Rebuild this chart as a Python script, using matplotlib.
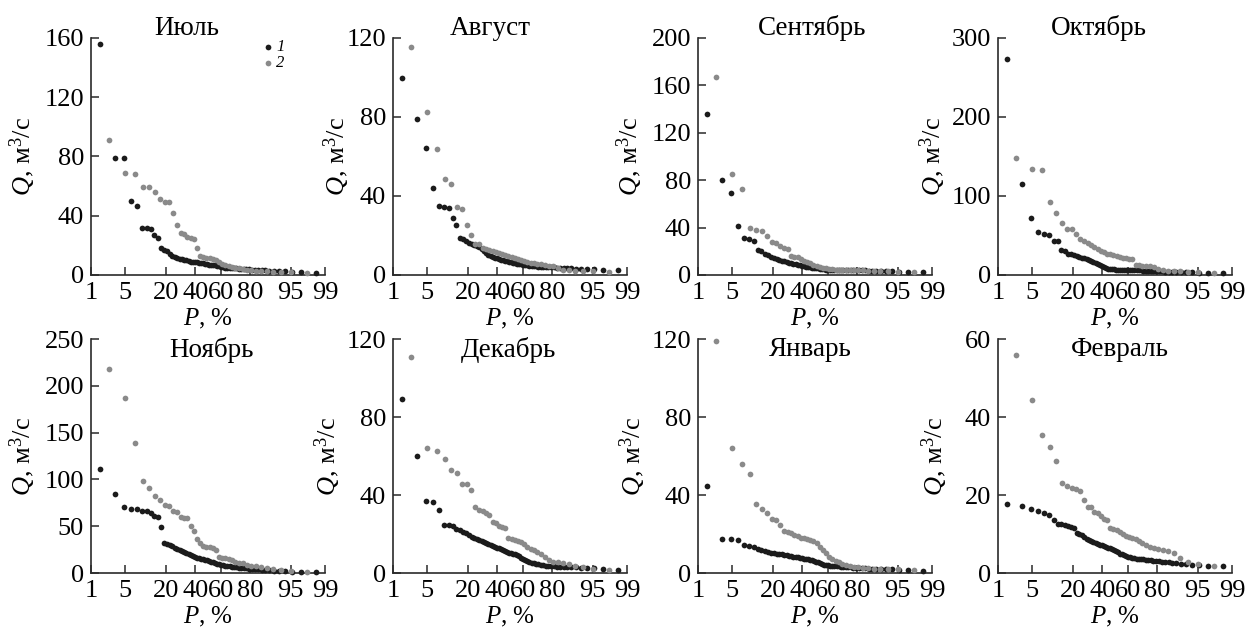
import numpy as np
import matplotlib
matplotlib.use("Agg")
import matplotlib.pyplot as plt
from statistics import NormalDist

plt.rcParams["font.family"] = "serif"
plt.rcParams["font.serif"] = ["Liberation Serif", "DejaVu Serif"]
plt.rcParams["mathtext.fontset"] = "custom"
plt.rcParams["mathtext.rm"] = "Liberation Serif"
plt.rcParams["mathtext.it"] = "Liberation Serif:italic"
plt.rcParams["mathtext.default"] = "regular"

FONT = "Liberation Serif"

months = ["Июль", "Август", "Сентябрь", "Октябрь",
          "Ноябрь", "Декабрь", "Январь", "Февраль"]

# monthly discharges, m3/s, ranked from largest to smallest
# series 1 (black)
jul_1 = [156, 79, 79, 50, 46.5, 32, 31.5, 31, 27, 25, 18, 17, 16, 14, 13, 12, 11.5, 11, 10.5, 10,
         10, 9.5, 9, 9, 8.5, 8.5, 8, 8, 8, 7.5, 7.5, 7, 7, 6.5, 6.5, 6, 6, 5.5, 5.5, 5,
         5, 5, 4.5, 4.5, 4.5, 4, 4, 4, 4, 3.8, 3.6, 3.5, 3.4, 3.3, 3.2, 3, 2.8, 2.6, 2.4, 2.2,
         2, 1.5]
aug_1 = [99.5, 79, 64.5, 44, 35, 34.3, 34, 29, 25.5, 18.5, 18, 17, 16, 15.5, 15, 14.5, 14, 13, 12, 11,
         10, 9.5, 9, 8.8, 8.5, 8, 7.8, 7.5, 7.2, 7, 6.8, 6.5, 6.3, 6, 5.8, 5.6, 5.4, 5.2, 5, 4.9,
         4.8, 4.6, 4.5, 4.4, 4.3, 4.2, 4.1, 4, 4, 3.9, 3.8, 3.7, 3.6, 3.5, 3.4, 3.3, 3.2, 3.1, 3, 2.9,
         2.7, 2.5]
sep_1 = [136, 80, 69, 41.5, 31, 30.7, 29, 21, 20.3, 18, 16.5, 15, 14, 13.5, 13, 12, 11.5, 11, 10.5, 10,
         9.5, 9, 8.7, 8.3, 8, 7.5, 7, 6.8, 6.5, 6.2, 6, 5.7, 5.5, 5.2, 5, 4.8, 4.6, 4.5, 4.5, 4.4,
         4.4, 4.3, 4.3, 4.2, 4.2, 4.1, 4.1, 4, 4, 4, 3.9, 3.9, 3.8, 3.7, 3.6, 3.5, 3.3, 3.2, 3, 2.8,
         2.5, 2.2]
oct_1 = [274, 115, 72, 55, 52, 50, 43.5, 42.5, 31.5, 30.5, 27, 26, 25, 24, 23, 22, 21, 20, 19, 18,
         16.5, 15.5, 14.5, 13, 11.5, 10, 8.5, 7.5, 7.2, 7, 7, 6.8, 6.8, 6.6, 6.5, 6.4, 6.3, 6.2, 6.2, 6,
         6, 6, 5.8, 5.8, 5.6, 5.5, 5.5, 5.4, 5.2, 5, 4.8, 4.6, 4.4, 4.2, 4, 3.8, 3.6, 3.4, 3.2, 3,
         2.8, 2.5]
nov_1 = [111, 84, 71, 68.5, 68.5, 66.5, 66, 64, 61, 59.5, 49, 32, 31.5, 30, 28.5, 27, 25.5, 24.5, 23.5, 22.5,
         21, 20, 19, 18, 17, 16.5, 16, 15, 14.5, 14, 13.5, 13, 12, 11.5, 11, 10, 9.5, 9, 8.5, 8,
         7.5, 7, 6.8, 6.5, 6, 5.8, 5.5, 5.2, 5, 4.8, 4.5, 4.2, 4, 3.6, 3.2, 3, 2.6, 2.2, 1.8, 1.5,
         1.2, 1]
dec_1 = [89, 60, 37, 36.5, 32.5, 24.5, 24.5, 24, 22.5, 22, 21, 20.5, 19.5, 18.5, 18, 17.5, 17, 16.5, 16, 15.5,
         15, 14.5, 14, 13.5, 13, 12.8, 12.5, 12, 11.5, 11, 10.5, 10.2, 10, 9.5, 9, 8.5, 7.5, 7, 6.5, 6,
         5.5, 5.2, 5, 4.8, 4.5, 4.3, 4, 3.8, 3.6, 3.5, 3.4, 3.3, 3.2, 3.1, 3, 3, 2.9, 2.8, 2.6, 2.4,
         2, 1.5]
jan_1 = [44.5, 17.3, 17.3, 16.8, 14.2, 13.7, 13.3, 12.5, 12, 11.5, 11, 10.5, 10.2, 10, 9.7, 9.5, 9.2, 9, 8.8, 8.6,
         8.4, 8.2, 8, 7.8, 7.6, 7.4, 7.2, 7, 6.8, 6.5, 6.2, 5.8, 5.4, 5, 4.6, 4.3, 4, 3.9, 3.8, 3.7,
         3.6, 3.5, 3.4, 3.3, 3.2, 3.1, 3, 2.9, 2.8, 2.7, 2.6, 2.5, 2.4, 2.3, 2.2, 2.1, 2, 1.9, 1.8, 1.6,
         1.4, 1.2]
feb_1 = [17.6, 17.2, 16.3, 16, 15.5, 14.8, 13.5, 12.6, 12.5, 12.3, 12, 11.8, 11.5, 10.3, 10, 9.7, 9.2, 8.8, 8.5, 8.2,
         8, 7.7, 7.5, 7.3, 7.1, 6.9, 6.7, 6.5, 6.3, 6.1, 5.9, 5.6, 5.3, 5, 4.8, 4.5, 4.3, 4.1, 4, 3.9,
         3.8, 3.7, 3.7, 3.6, 3.5, 3.4, 3.4, 3.3, 3.2, 3.1, 3, 2.9, 2.8, 2.7, 2.6, 2.5, 2.3, 2.2, 2.1, 2,
         1.9, 1.7]

# series 2 (grey)
jul_2 = [91, 69, 68.5, 59.5, 59.5, 56, 51.5, 49.5, 49, 42, 33.5, 28.5, 28, 25.5, 25, 24, 18, 12.5, 12, 11.8,
         11.5, 10.7, 9.8, 8.5, 7.5, 6.8, 6, 5.5, 5, 4.5, 4, 3.6, 3.3, 3, 2.8, 2.5, 2.3, 2, 1.8, 1.5]
aug_2 = [115.5, 82.7, 63.8, 48.8, 46, 34.5, 33.5, 25.5, 20.2, 15.8, 15.5, 13.5, 13, 12.5, 12, 11.5, 11, 10.5, 10, 9.5,
         9, 8.5, 8, 7.5, 7, 6.5, 6.2, 6, 5.8, 5.5, 5, 4.8, 4.5, 3.5, 2.5, 2.3, 2, 2, 2, 1.5]
sep_2 = [167.5, 85, 72.5, 39.5, 38, 37, 33, 27.6, 26.7, 24.7, 23, 22, 16.3, 15.6, 15, 13.5, 12, 11, 10, 8.5,
         7.5, 6.5, 6, 5.5, 5, 4.8, 4.6, 4.5, 4.4, 4.3, 4.2, 4.1, 4, 3.8, 3.6, 3.4, 3.2, 3, 2.8, 2.5]
oct_2 = [148.5, 134.5, 133.5, 92, 78, 66, 58.5, 58, 51.5, 46, 43, 40.5, 38, 36, 33.5, 30.5, 29, 27, 26, 25,
         24, 23, 22, 21, 20.5, 20, 13, 12.5, 12, 11.5, 11, 10, 8, 6, 5.5, 5, 4.5, 4, 3.5, 3]
nov_2 = [218, 186.5, 139, 98, 90.5, 82, 78, 73, 71.5, 66, 65, 59.5, 58.5, 58.5, 50, 45, 36, 32.5, 28.5, 28,
         27.5, 27, 25, 17, 16.5, 16, 15, 13.5, 12, 11, 10.5, 8.5, 7.8, 7.3, 6.5, 5, 4, 3, 2, 1]
dec_2 = [110.7, 64, 62.5, 58.3, 53, 51.5, 45.8, 45.6, 42.8, 34, 32.3, 32, 31, 30, 26.4, 25.4, 24.2, 23.5, 23, 17.7,
         17.4, 17.1, 16.6, 16, 14.9, 13.5, 12.5, 11.8, 10.6, 9.5, 8, 6.5, 5.8, 5.5, 5, 4.4, 3.5, 3, 2.2, 1.4]
jan_2 = [119, 64, 56, 51, 35.3, 33, 30.6, 27.7, 27, 24.6, 21.6, 20.8, 20.3, 19.5, 18.9, 18.2, 17.7, 17.4, 17.1, 16.6,
         15.5, 13.5, 12, 10.4, 8.1, 7, 6, 5.4, 4.8, 4.2, 3.7, 3.3, 2.9, 2.7, 2.5, 2.3, 2.2, 2, 1.8, 1.5]
feb_2 = [56, 44.3, 35.3, 32.4, 28.6, 23, 22.4, 21.9, 21.5, 21, 18.7, 17, 16.8, 15.7, 15.3, 14.6, 13.9, 13.5, 11.5, 11.2,
         11, 10.5, 10, 9.6, 9.2, 9, 8.8, 8.2, 7.8, 7.3, 6.7, 6.4, 6.2, 6, 5.6, 5.2, 3.9, 2.8, 2.3, 1.9]

series_1 = [jul_1, aug_1, sep_1, oct_1, nov_1, dec_1, jan_1, feb_1]
series_2 = [jul_2, aug_2, sep_2, oct_2, nov_2, dec_2, jan_2, feb_2]

p_ticks = [1, 5, 20, 40, 60, 80, 95, 99]
q_ticks = [[0, 40, 80, 120, 160], [0, 40, 80, 120], [0, 40, 80, 120, 160, 200], [0, 100, 200, 300],
           [0, 50, 100, 150, 200, 250], [0, 40, 80, 120], [0, 40, 80, 120], [0, 20, 40, 60]]


def exceedance(q):
    # Weibull plotting position, %
    n = len(q)
    return 100.0 * np.arange(1, n + 1) / (n + 1)


_nd = NormalDist()
_ppf = np.vectorize(_nd.inv_cdf, otypes=[float])
_cdf = np.vectorize(_nd.cdf, otypes=[float])


def prob_forward(p):
    p = np.clip(np.asarray(p, dtype=float) / 100.0, 1e-9, 1 - 1e-9)
    return _ppf(p)


def prob_inverse(z):
    return _cdf(np.asarray(z, dtype=float)) * 100.0


W, H = 1247, 629
fig = plt.figure(figsize=(W / 100, H / 100), dpi=100)

col_left = [91, 393, 698, 998]
row_top = [38, 339]
row_bottom = [275, 573]
ax_w = 234
title_x = [0.41, 0.417, 0.487, 0.43, 0.516, 0.494, 0.478, 0.52]
ylab_off = [53, 41, 53, 50, 53, 50, 50, 48]

black = "#1b1b1b"
grey = "#8a8a8a"

for k, month in enumerate(months):
    r, c = divmod(k, 4)
    top, bot = row_top[r], row_bottom[r]
    ax = fig.add_axes([col_left[c] / W, 1 - bot / H, ax_w / W, (bot - top) / H])
    ax.set_xscale("function", functions=(prob_forward, prob_inverse))

    q1 = series_1[k]
    q2 = series_2[k]
    ax.scatter(exceedance(q1), q1, s=17, color=black, linewidths=0, label="1", zorder=3, clip_on=False)
    ax.scatter(exceedance(q2), q2, s=17, color=grey, linewidths=0, label="2", zorder=4, clip_on=False)

    ax.set_xlim(1, 99)
    ax.set_ylim(q_ticks[k][0], q_ticks[k][-1])
    ax.set_xticks(p_ticks)
    ax.set_xticklabels([str(p) for p in p_ticks])
    ax.xaxis.set_minor_locator(matplotlib.ticker.NullLocator())
    ax.set_yticks(q_ticks[k])
    for lab in ax.get_xticklabels() + ax.get_yticklabels():
        lab.set_fontfamily(FONT)

    for side in ("top", "right"):
        ax.spines[side].set_visible(False)
    for side in ("left", "bottom"):
        ax.spines[side].set_linewidth(1.2)
        ax.spines[side].set_color("#2a2a2a")
    ax.tick_params(direction="in", length=6, width=1.1, color="#2a2a2a",
                   labelsize=19, pad=5)
    ax.tick_params(axis="x", pad=5)

    ax.set_ylabel("$\\mathit{Q}$, м$^3$/с", fontsize=19, fontfamily=FONT)
    ax.yaxis.set_label_coords(-ylab_off[k] / ax_w, 0.5)
    ax.set_xlabel("$\\mathit{P}$, %", fontsize=18, fontfamily=FONT)
    ax.xaxis.set_label_coords(0.5, -0.135)

    ty = 1.042 if r == 0 else 0.953
    ax.text(title_x[k], ty, month, transform=ax.transAxes, ha="center", va="center",
            fontsize=19.5, fontfamily=FONT)

    if k == 0:
        ax.legend(loc="upper left", bbox_to_anchor=(0.70, 1.03), frameon=False,
                  handlelength=0.6, handletextpad=0.2, labelspacing=0.0,
                  borderpad=0.0, scatterpoints=1,
                  prop={"family": FONT, "size": 12, "style": "italic"})

fig.savefig("out.png", dpi=100)
